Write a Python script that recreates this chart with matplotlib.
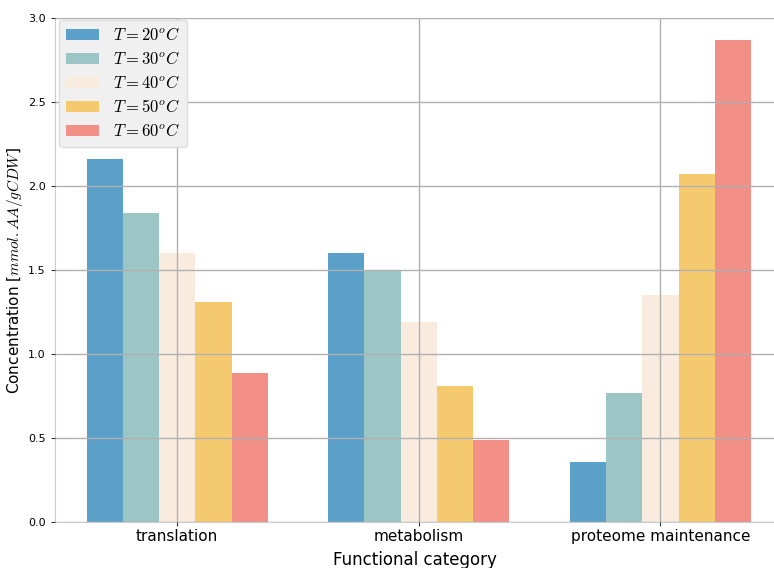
import numpy as np
import matplotlib.pyplot as plt

plt.rcParams['mathtext.fontset'] = 'cm'

categories = ['translation', 'metabolism', 'proteome maintenance']
temps = [20, 30, 40, 50, 60]
# concentration per functional category, one list per temperature
conc_20 = [2.16, 1.60, 0.36]
conc_30 = [1.84, 1.50, 0.77]
conc_40 = [1.60, 1.19, 1.35]
conc_50 = [1.31, 0.81, 2.07]
conc_60 = [0.89, 0.49, 2.87]
colors = ['#5ba0c9', '#9bc6c5', '#f9ebdd', '#f5ca6e', '#f28f86']

series = [conc_20, conc_30, conc_40, conc_50, conc_60]

fig = plt.figure(figsize=(7.74, 5.68), dpi=100)
ax = fig.add_axes([0.071, 0.081, 0.929, 0.887])

x = np.arange(len(categories))
w = 0.15
for i, (vals, t) in enumerate(zip(series, temps)):
    ax.bar(x + (i - 2) * w, vals, w, color=colors[i], label=r'$T = %d^oC$' % t, zorder=1)

ax.set_xticks(x)
ax.set_xticklabels(categories, fontsize=11)
ax.set_ylim(0, 3.0)
ax.set_xlim(-0.506, 2.47)
ax.set_yticks(np.arange(0, 3.01, 0.5))
ax.set_yticklabels(['%.1f' % v for v in np.arange(0, 3.01, 0.5)], fontsize=8)
ax.grid(True, color='#b0b0b0', linewidth=1, zorder=2)
ax.set_axisbelow(False)
ax.tick_params(axis='both', length=3, color='#333333', width=0.8)
ax.tick_params(axis='x', pad=2)
for side in ['left', 'bottom', 'top']:
    ax.spines[side].set_color('#cccccc')
ax.spines['right'].set_visible(False)

ax.set_xlabel('Functional category', fontsize=12, labelpad=5)
ax.set_ylabel(r'Concentration [$mmol. AA/gCDW$]', fontsize=11, labelpad=2)

leg = ax.legend(loc='upper left', fontsize=12, frameon=True, facecolor='#f0f0f0',
                edgecolor='#dddddd', framealpha=1, handlelength=2.0, handleheight=0.7,
                labelspacing=0.36, bbox_to_anchor=(0.006, 0.997), borderaxespad=0,
                borderpad=0.4)
leg.set_zorder(5)

fig.savefig('out.png', dpi=100)
